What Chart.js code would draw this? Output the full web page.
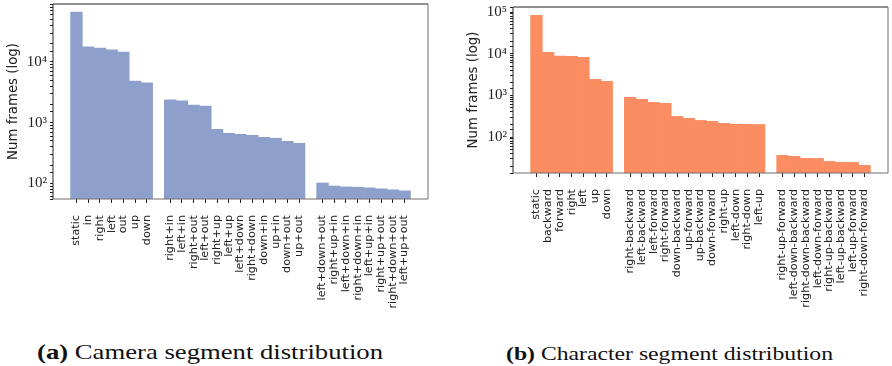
<!DOCTYPE html>
<html>
<head>
<meta charset="utf-8">
<script src="https://cdn.jsdelivr.net/npm/chart.js@4.4.1/dist/chart.umd.min.js"></script>
<style>
  html, body { margin: 0; padding: 0; background: #fff; }
  body { width: 892px; height: 366px; position: relative; overflow: hidden; }
  .box { position: absolute; top: 0; height: 330px; }
  .cap { position: absolute; white-space: nowrap; font-family: "Liberation Serif", "DejaVu Serif", serif; color: #111; transform-origin: 0 0; line-height: 1; }
  .cap b { font-weight: bold; }
</style>
</head>
<body>
<div class="box" style="left:0;width:440px"><canvas id="camChart" width="440" height="330"></canvas></div>
<div class="box" style="left:450px;width:442px"><canvas id="charChart" width="442" height="330"></canvas></div>
<div class="cap" id="capA" style="left:37px;top:341px;font-size:22px"><b>(a)</b> Camera segment distribution</div>
<div class="cap" id="capB" style="left:506px;top:344px;font-size:19px"><b>(b)</b> Character segment distribution</div>
<script>
// ---- data (camera) ----
const camG1Labels = ['static','in','right','left','out','up','down'];
const camG1 = [66700, 17700, 17000, 15800, 14600, 4860, 4510];
const camG2Labels = ['right+in','left+in','right+out','left+out','right+up','left+up','left+down','right+down','down+in','up+in','down+out','up+out'];
const camG2 = [2370, 2280, 1950, 1880, 776, 667, 642, 618, 573, 552, 492, 456];
const camG3Labels = ['left+down+out','right+up+in','left+down+in','right+down+in','left+up+in','right+up+out','right+down+out','left+up+out'];
const camG3 = [101, 90, 87, 86, 84, 81, 78, 75];

// ---- data (character) ----
const charG1Labels = ['static','backward','forward','right','left','up','down'];
const charG1 = [83000, 10800, 8800, 8700, 8200, 2420, 2170];
const charG2Labels = ['right-backward','left-backward','left-forward','right-forward','down-backward','up-forward','up-backward','down-forward','right-up','left-down','right-down','left-up'];
const charG2 = [895, 802, 679, 643, 313, 281, 251, 238, 213, 203, 201, 200];
const charG3Labels = ['right-up-forward','left-down-backward','right-down-backward','left-down-forward','right-up-backward','left-up-backward','left-up-forward','right-down-forward'];
const charG3 = [36.3, 34.4, 30.8, 30.6, 26, 24.8, 24.6, 20.9];

// y-axis ranges (log)
const camYRange = [55, 90400];
const charYRange = [13.7, 132000];

const yTitle = 'Num frames (log)';

// groups separated by one empty slot, two empty slots at each end
function withGaps(groups, gap) {
  const out = [gap, gap];
  groups.forEach((g, i) => { if (i) out.push(gap); out.push(...g); });
  out.push(gap, gap);
  return out;
}

const SUP = {'0':'\u2070','1':'\u00B9','2':'\u00B2','3':'\u00B3','4':'\u2074','5':'\u2075','6':'\u2076','7':'\u2077','8':'\u2078','9':'\u2079','-':'\u207B'};
function powLabel(v) {
  const e = Math.log10(v);
  if (Math.abs(e - Math.round(e)) > 1e-9) return '';
  return '10' + String(Math.round(e)).split('').map(c => SUP[c]).join('');
}

const framePlugin = {
  id: 'frame',
  afterDatasetsDraw(chart) {
    const {ctx, chartArea: a} = chart;
    ctx.save();
    ctx.lineWidth = 1;
    ctx.strokeStyle = '#222';
    ctx.beginPath();
    ctx.moveTo(a.left, a.bottom); ctx.lineTo(a.left, a.top); ctx.lineTo(a.right, a.top);
    ctx.stroke();
    ctx.strokeStyle = '#6e6e6e';
    ctx.beginPath();
    ctx.moveTo(a.right, a.top); ctx.lineTo(a.right, a.bottom); ctx.lineTo(a.left, a.bottom);
    ctx.stroke();
    ctx.restore();
  }
};

function makeChart(id, labels, values, color, yRange, opts) {
  return new Chart(document.getElementById(id), {
    type: 'bar',
    data: {
      labels: labels,
      datasets: [{ data: values, backgroundColor: color, borderWidth: 0, barPercentage: 1, categoryPercentage: 1 }]
    },
    options: {
      responsive: false,
      animation: false,
      events: [],
      layout: { padding: { top: opts.top, right: opts.right, left: 0, bottom: 0 } },
      plugins: { legend: { display: false }, tooltip: { enabled: false } },
      scales: {
        x: {
          type: 'category',
          offset: false,
          border: { display: false },
          grid: {
            offset: false,
            drawOnChartArea: false,
            drawTicks: true,
            tickLength: 4,
            tickColor: (c) => (c.tick && c.tick.label) ? '#222' : 'rgba(0,0,0,0)'
          },
          ticks: {
            autoSkip: false, maxRotation: 90, minRotation: 90, padding: 12,
            color: '#222',
            font: { family: '"DejaVu Sans", sans-serif', size: 11.2 }
          },
          afterFit: (s) => { s.height = opts.xHeight; s.paddingLeft = 0; s.paddingRight = 0; }
        },
        y: {
          type: 'logarithmic',
          min: yRange[0], max: yRange[1],
          border: { display: false },
          grid: { drawOnChartArea: false, drawTicks: true, tickLength: 3, tickColor: '#222' },
          ticks: {
            autoSkip: false, padding: 3, color: '#222',
            font: { family: '"Liberation Serif", "DejaVu Serif", serif', size: 15 },
            callback: (v) => powLabel(v)
          },
          title: {
            display: true, text: yTitle, color: '#222',
            font: { family: '"DejaVu Sans", sans-serif', size: 13.3 },
            padding: { top: opts.titlePad, bottom: 0 }
          },
          afterFit: (s) => { s.width = opts.yWidth; s.paddingTop = 0; s.paddingBottom = 0; }
        }
      }
    },
    plugins: [framePlugin]
  });
}

makeChart('camChart',
  withGaps([camG1Labels, camG2Labels, camG3Labels], ''),
  withGaps([camG1, camG2, camG3], null),
  '#8DA0CB', camYRange,
  { top: 4, right: 12, xHeight: 131, yWidth: 53, titlePad: 6 });

makeChart('charChart',
  withGaps([charG1Labels, charG2Labels, charG3Labels], ''),
  withGaps([charG1, charG2, charG3], null),
  '#FC8D62', charYRange,
  { top: 7, right: 4, xHeight: 157, yWidth: 63, titlePad: 16 });

function fitCaption(id, target) {
  const el = document.getElementById(id);
  const w = el.getBoundingClientRect().width;
  if (w > 0) el.style.transform = 'scaleX(' + (target / w) + ')';
}
fitCaption('capA', 346);
fitCaption('capB', 327);
</script>
</body>
</html>
